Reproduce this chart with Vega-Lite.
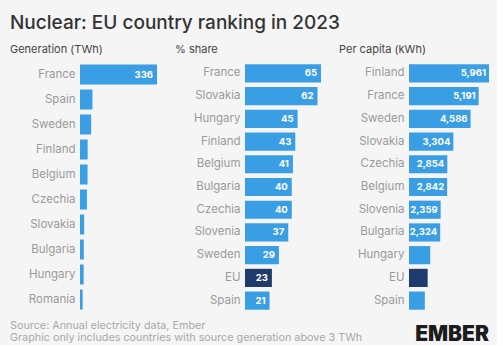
{
  "$schema": "https://vega.github.io/schema/vega-lite/v6.json",
  "background": "#f5f5f5",
  "padding": {"left": 10, "top": 14, "right": 8, "bottom": 0},
  "config": {
    "font": "Inter",
    "view": {"stroke": null},
    "scale": {"bandPaddingInner": 0.2, "bandPaddingOuter": 0.1},
    "axis": {"domain": false, "ticks": false, "grid": false, "labelPadding": 5, "labelColor": "#9a9a9a", "labelFontSize": 11.5, "labelFont": "Inter"},
    "title": {"font": "Inter"}
  },
  "datasets": {
    "gen": [
      {"country": "France", "value": 336},
      {"country": "Spain", "value": 54.4},
      {"country": "Sweden", "value": 48.7},
      {"country": "Finland", "value": 33.4},
      {"country": "Belgium", "value": 32.9},
      {"country": "Czechia", "value": 30.4},
      {"country": "Slovakia", "value": 18.1},
      {"country": "Bulgaria", "value": 16.6},
      {"country": "Hungary", "value": 16.0},
      {"country": "Romania", "value": 11.5}
    ],
    "share": [
      {"country": "France", "value": 65},
      {"country": "Slovakia", "value": 62},
      {"country": "Hungary", "value": 45},
      {"country": "Finland", "value": 43},
      {"country": "Belgium", "value": 41},
      {"country": "Bulgaria", "value": 40},
      {"country": "Czechia", "value": 40},
      {"country": "Slovenia", "value": 37},
      {"country": "Sweden", "value": 29},
      {"country": "EU", "value": 23},
      {"country": "Spain", "value": 21}
    ],
    "percap": [
      {"country": "Finland", "value": 5961},
      {"country": "France", "value": 5191},
      {"country": "Sweden", "value": 4586},
      {"country": "Slovakia", "value": 3304},
      {"country": "Czechia", "value": 2854},
      {"country": "Belgium", "value": 2842},
      {"country": "Slovenia", "value": 2359},
      {"country": "Bulgaria", "value": 2324},
      {"country": "Hungary", "value": 1580},
      {"country": "EU", "value": 1390},
      {"country": "Spain", "value": 1180}
    ]
  },
  "title": {"text": "Nuclear: EU country ranking in 2023", "anchor": "start", "fontSize": 19, "fontWeight": 500, "color": "#333333", "offset": 11},
  "vconcat": [
    {
      "title": {"text": "EMBER", "orient": "bottom", "anchor": "end", "fontSize": 21, "fontWeight": 900, "color": "#1c1c1c", "offset": -19},
      "vconcat": [
        {
          "title": {"text": ["Source: Annual electricity data, Ember", "Graphic only includes countries with source generation above 3 TWh"], "orient": "bottom", "anchor": "start", "fontSize": 10.8, "fontWeight": "normal", "color": "#a8a8a8", "lineHeight": 12, "offset": 8},
          "spacing": 88,
          "bounds": "flush",
          "hconcat": [
            {
              "width": 77, "height": 250,
              "title": {"text": "Generation (TWh)", "anchor": "start", "frame": "group", "dx": -70, "fontSize": 11, "fontWeight": "normal", "color": "#444444", "offset": 7},
              "data": {"name": "gen"},
              "encoding": {
                "y": {"field": "country", "type": "nominal", "sort": null, "title": null},
                "x": {"field": "value", "type": "quantitative", "axis": null, "scale": {"nice": false}}
              },
              "layer": [
                {"mark": {"type": "bar"}, "encoding": {"color": {"condition": {"test": "datum.country === 'EU'", "value": "#1f3b6e"}, "value": "#3a9ee4"}}},
                {"transform": [{"filter": "datum.value >= 100"}], "mark": {"type": "text", "align": "right", "dx": -4, "color": "white", "fontWeight": "bold", "fontSize": 9.5}, "encoding": {"text": {"field": "value", "type": "quantitative", "format": ","}}}
              ]
            },
            {
              "width": 76, "height": 250,
              "title": {"text": "% share", "anchor": "start", "frame": "group", "dx": -70, "fontSize": 11, "fontWeight": "normal", "color": "#444444", "offset": 7},
              "data": {"name": "share"},
              "encoding": {
                "y": {"field": "country", "type": "nominal", "sort": null, "title": null},
                "x": {"field": "value", "type": "quantitative", "axis": null, "scale": {"nice": false}}
              },
              "layer": [
                {"mark": {"type": "bar"}, "encoding": {"color": {"condition": {"test": "datum.country === 'EU'", "value": "#1f3b6e"}, "value": "#3a9ee4"}}},
                {"mark": {"type": "text", "align": "right", "dx": -4, "color": "white", "fontWeight": "bold", "fontSize": 9.5}, "encoding": {"text": {"field": "value", "type": "quantitative", "format": ","}}}
              ]
            },
            {
              "width": 80, "height": 250,
              "title": {"text": "Per capita (kWh)", "anchor": "start", "frame": "group", "dx": -70, "fontSize": 11, "fontWeight": "normal", "color": "#444444", "offset": 7},
              "data": {"name": "percap"},
              "encoding": {
                "y": {"field": "country", "type": "nominal", "sort": null, "title": null},
                "x": {"field": "value", "type": "quantitative", "axis": null, "scale": {"nice": false}}
              },
              "layer": [
                {"mark": {"type": "bar"}, "encoding": {"color": {"condition": {"test": "datum.country === 'EU'", "value": "#1f3b6e"}, "value": "#3a9ee4"}}},
                {"transform": [{"filter": "datum.value >= 2000"}], "mark": {"type": "text", "align": "right", "dx": -3, "color": "white", "fontWeight": "bold", "fontSize": 9.5}, "encoding": {"text": {"field": "value", "type": "quantitative", "format": ","}}}
              ]
            }
          ]
        }
      ]
    }
  ]
}
